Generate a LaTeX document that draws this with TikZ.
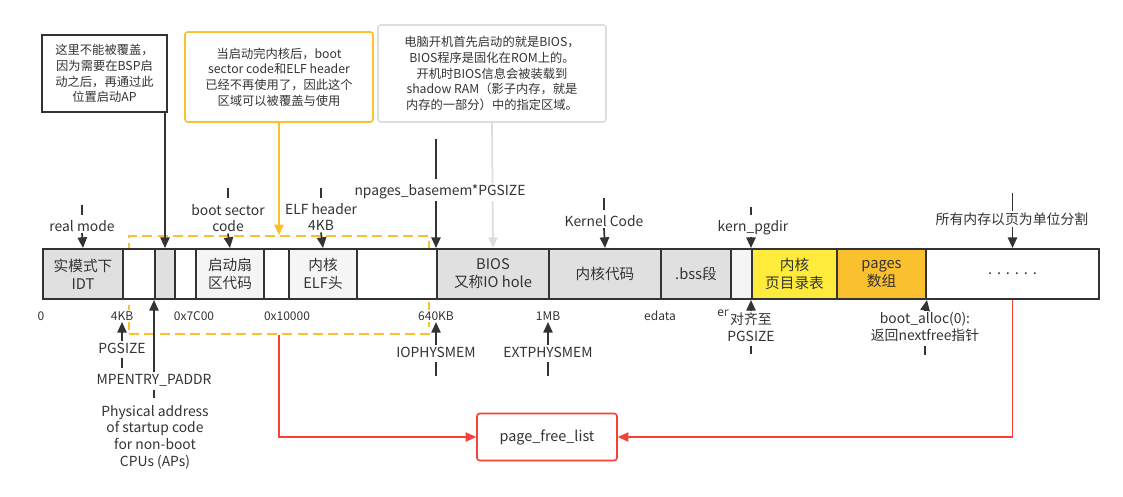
\documentclass[tikz,border=0pt]{standalone}
\usepackage{fontspec}
\setmainfont{Noto Sans CJK SC}
\usetikzlibrary{arrows.meta}
\definecolor{ink}{HTML}{333333}
\definecolor{blkgray}{HTML}{E0E0E0}
\definecolor{blklight}{HTML}{F5F5F5}
\definecolor{kyellow}{HTML}{FFEB3B}
\definecolor{korange}{HTML}{FBC02D}
\definecolor{noteline}{HTML}{DDDDDD}
\definecolor{fred}{HTML}{F44336}
\begin{document}
\begin{tikzpicture}[x=0.75pt,y=-0.75pt,
	blk/.style={ draw=ink, line width=1.5pt, inner sep=0pt, minimum height=37.5pt, anchor=west, align=center, text=ink, font=\fontsize{11}{13.5}\selectfont },
	lbl/.style={ fill=white, inner sep=1pt, align=center, text=ink, font=\fontsize{10.4}{12.5}\selectfont },
	addr/.style={ fill=white, inner sep=1pt, text=ink, font=\fontsize{9}{10}\selectfont },
	note/.style={ align=center, inner sep=0pt, text=ink, font=\fontsize{9.2}{11.8}\selectfont },
	arr/.style={ draw=ink, line width=1.3pt, -{Triangle[length=8pt,width=7pt]} },
	tick/.style={ draw=ink, line width=1.3pt },
	redarr/.style={ draw=fred, line width=1.1pt, -{Triangle[length=8pt,width=7pt]} }
]
\useasboundingbox (0,0) rectangle (1123,496);

\node at (104.5,73.5) (nbsp) [note, draw=ink, line width=1.5pt, minimum width=93.75pt, minimum height=57.75pt] {这里不能被覆盖，\\因为需要在BSP启\\动之后，再通过此\\位置启动AP};
\node at (279,77) (nboot) [note, draw=korange, line width=1.2pt, rounded corners=2pt, minimum width=141pt, minimum height=67.5pt] {当启动完内核后，boot\\sector code和ELF header\\已经不再使用了，因此这个\\区域可以被覆盖与使用};
\node at (492,73.5) (nbios) [note, draw=noteline, line width=1.2pt, rounded corners=2pt, minimum width=171pt, minimum height=72.75pt] {电脑开机首先启动的就是BIOS，\\BIOS程序是固化在ROM上的。\\开机时BIOS信息会被装载到\\shadow RAM（影子内存，就是\\内存的一部分）中的指定区域。};

\node at (279,285) (ovl) [draw=korange, dashed, dash pattern=on 7.5pt off 4pt, line width=1.2pt, minimum width=225pt, minimum height=73.5pt, inner sep=0pt] {};

\node at (42,274) (b1) [blk, fill=blkgray, minimum width=60pt] {实模式下\\IDT};
\node at (122,274) (b2) [blk, fill=white, minimum width=24pt] {};
\node at (154,274) (b3) [blk, fill=blkgray, minimum width=15pt] {};
\node at (174,274) (b4) [blk, fill=white, minimum width=15.75pt] {};
\node at (195,274) (b5) [blk, fill=blklight, minimum width=51pt] {启动扇\\区代码};
\node at (263,274) (b6) [blk, fill=white, minimum width=18.75pt] {};
\node at (288,274) (b7) [blk, fill=blklight, minimum width=51pt] {内核\\ELF头};
\node at (356,274) (b8) [blk, fill=white, minimum width=60pt] {};
\node at (436,274) (b9) [blk, fill=blkgray, minimum width=84pt] {BIOS\\又称IO hole};
\node at (548,274) (b10) [blk, fill=blkgray, minimum width=84pt] {内核代码};
\node at (660,274) (b11) [blk, fill=blkgray, minimum width=52.5pt] {.bss段};
\node at (730,274) (b12) [blk, fill=blklight, minimum width=15.75pt] {};
\node at (751,274) (b13) [blk, fill=kyellow, minimum width=63.75pt] {内核\\页目录表};
\node at (836,274) (b14) [blk, fill=korange, minimum width=66.75pt] {pages\\数组};
\node at (925,274) (b15) [blk, fill=white, minimum width=129.75pt] {.\,\,.\,\,.\,\,.\,\,.\,\,.};

\draw[arr] (b3.north |- nbsp.south) -- (b3.north);
\draw[arr, draw=korange] (nboot.south) -- (ovl.north);
\draw[arr, draw=noteline] (nbios.south) -- (b9.north);

\node at (82,226) (lrm) [lbl] {real mode};
\draw[tick] ([yshift=3pt]lrm.north) -- ++(0,-10);
\draw[arr] (lrm.south) -- (b1.north);
\node at (228,218) (lbs) [lbl] {boot sector\\code};
\draw[tick] ([yshift=3pt]lbs.north) -- ++(0,-10);
\draw[arr] (lbs.south) -- (b5.north);
\node at (321,217) (lelf) [lbl] {ELF header\\4KB};
\draw[tick] ([yshift=3pt]lelf.north) -- ++(0,-10);
\draw[arr] (lelf.south) -- (b7.north);
\node at (440,192) (lnp) [lbl] {npages\_basemem*PGSIZE};
\draw[tick] ([yshift=3pt]b9.north west |- lnp.north) -- ++(0,-40);
\draw[arr] (b9.north west |- lnp.south) -- (b9.north west);
\node at (604,221) (lkc) [lbl] {Kernel Code};
\draw[tick] ([yshift=3pt]lkc.north) -- ++(0,-12);
\draw[arr] (lkc.south) -- (b10.north);
\node at (753,228) (lkp) [lbl] {kern\_pgdir};
\draw[tick] ([yshift=3pt]b13.north west |- lkp.north) -- ++(0,-8);
\draw[arr] (b13.north west |- lkp.south) -- (b13.north west);
\node at (1012,219) (lall) [lbl] {所有内存以页为单位分割};
\draw[tick] (b15.north |- lall.north) -- ++(0,-18);
\draw[arr] (b15.north |- lall.south) -- (b15.north);

\node at (41,316) (a0) [addr] {0};
\node at (122,316) (a4k) [addr] {4KB};
\node at (194,316) (a7c) [addr] {0x7C00};
\node at (287,316) (a10k) [addr] {0x10000};
\node at (436,316) (a640) [addr] {640KB};
\node at (548,316) (a1mb) [addr] {1MB};
\node at (660,316) (aed) [addr] {edata};
\node at (723,313) (aend) [addr] {er};

\node at (122,348) (lpg) [lbl] {PGSIZE};
\draw[arr] (lpg.north) -- (a4k.south);
\draw[tick] ([yshift=-2pt]lpg.south) -- ++(0,10);
\node at (154,380) (lmp) [lbl] {MPENTRY\_PADDR};
\draw[arr] (lmp.north) -- (b3.south west);
\draw[tick] ([yshift=-2pt]lmp.south) -- ++(0,8);
\node at (155,437) (lphy) [lbl] {Physical address\\of startup code\\for non-boot\\CPUs (APs)};
\node at (436,352) (lio) [lbl] {IOPHYSMEM};
\draw[arr] (lio.north) -- (a640.south);
\draw[tick] ([yshift=-2pt]lio.south) -- ++(0,14);
\node at (548,352) (lext) [lbl] {EXTPHYSMEM};
\draw[arr] (lext.north) -- (a1mb.south);
\draw[tick] ([yshift=-2pt]lext.south) -- ++(0,14);
\node at (751,327) (lal) [lbl] {对齐至\\PGSIZE};
\draw[arr] (lal.north) -- (b13.south west);
\draw[tick] ([yshift=-2pt]lal.south) -- ++(0,8);
\node at (925,327) (lba) [lbl] {boot\_alloc(0):\\返回nextfree指针};
\draw[arr] (lba.north) -- (b14.south east);
\draw[tick] ([yshift=-2pt]lba.south) -- ++(0,9);

\node at (547,437) (pfl) [draw=fred, line width=1.2pt, rounded corners=2pt, minimum width=105pt, minimum height=35.25pt, text=ink, font=\fontsize{10.8}{12}\selectfont] {page\_free\_list};
\draw[redarr] (ovl.south) |- (pfl.west);
\draw[redarr] (b15.south) |- (pfl.east);

\end{tikzpicture}
\end{document}
